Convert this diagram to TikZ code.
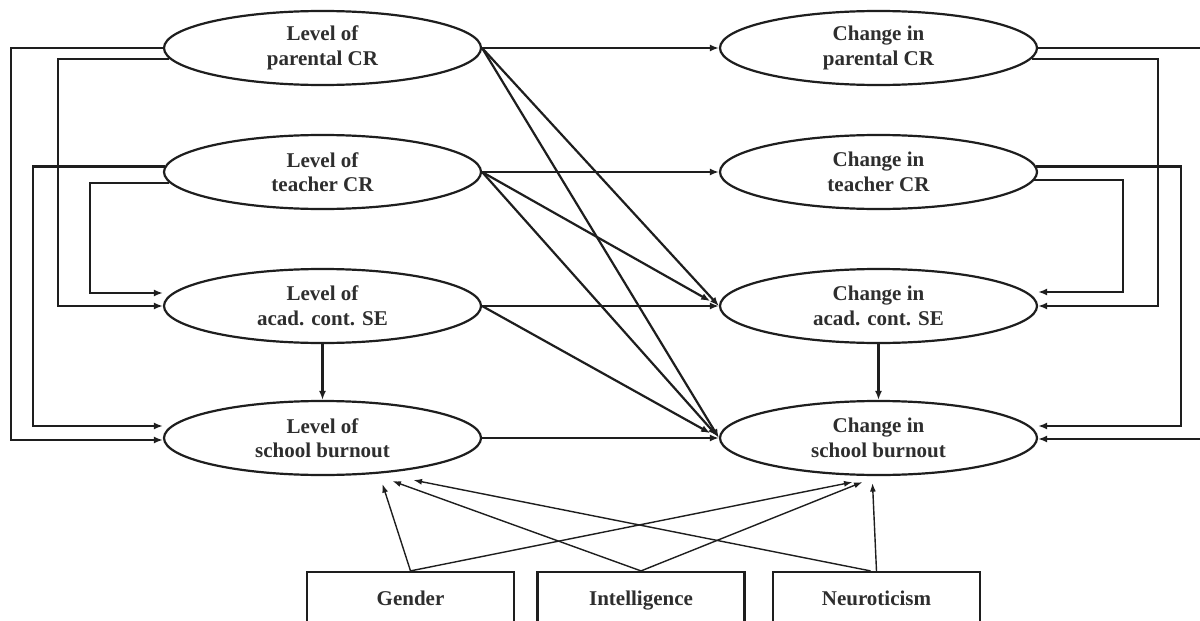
\documentclass[tikz,border=0pt]{standalone}
\usepackage{fontspec}
\setmainfont{Liberation Serif}
\usetikzlibrary{arrows.meta,calc,shapes.geometric}
\definecolor{ink}{HTML}{1E1E1E}
\definecolor{txt}{HTML}{2E2E2E}
\tikzset{
  latent/.style={ellipse, draw=ink, line width=2.2pt, minimum width=317pt, minimum height=74pt, inner sep=0pt, align=center, text=txt, font=\bfseries\fontsize{21}{24.5}\selectfont},
  obs/.style={rectangle, draw=ink, line width=2.2pt, minimum width=207pt, minimum height=56pt, inner sep=0pt, text height=14pt, text depth=4pt, text=txt, font=\bfseries\fontsize{21}{24}\selectfont},
  conn/.style={draw=ink, line width=2.2pt},
  arr/.style={conn, -{Latex[length=9pt,width=7pt]}},
  thinarr/.style={draw=ink, line width=1.4pt, -{Latex[length=8.5pt,width=6pt]}}
}
\begin{document}
\begin{tikzpicture}[x=1pt,y=-1pt]
\useasboundingbox (0,0) rectangle (1200,621);
\clip (0,0) rectangle (1200,621);
\fill[white] (0,0) rectangle (1200,621);
% latent nodes
\node[latent] (L1) at (322.5,48) {Level of\\parental CR};
\node[latent] (L2) at (322.5,172) {Level of\\teacher CR};
\node[latent] (L3) at (322.5,306) {Level of\\acad. cont. SE};
\node[latent] (L4) at (322.5,438) {Level of\\school burnout};
\node[latent] (R1) at (878.5,48) {Change in\\parental CR};
\node[latent] (R2) at (878.5,172) {Change in\\teacher CR};
\node[latent] (R3) at (878.5,306) {Change in\\acad. cont. SE};
\node[latent] (R4) at (878.5,438) {Change in\\school burnout};
% observed covariates
\node[obs] (G) at (410.5,600) {Gender};
\node[obs] (I) at (641,600) {Intelligence};
\node[obs] (N) at (876.5,600) {Neuroticism};
% routing channels
\coordinate (chA) at (11,250);
\coordinate (chB) at (58,200);
\coordinate (chC) at (33,300);
\coordinate (chD) at (90,240);
\coordinate (chE) at (1214,250);
\coordinate (chF) at (1158,200);
\coordinate (chG) at (1181,300);
\coordinate (chH) at (1123,240);
% left routing
\draw[arr] (L1.west) -| (chA) |- ([yshift=-2pt]L4.west);
\draw[arr] (L1.184.58) -| (chB) |- (L3.west);
\draw[arr] (L2.178.55) -| (chC) |- ([yshift=12pt]L4.west);
\draw[arr] (L2.184.16) -| (chD) |- ([yshift=13pt]L3.west);
% right routing
\draw[arr] (R1.east) -| (chE) |- ([yshift=-1pt]R4.east);
\draw[arr] (R1.-4.58) -| (chF) |- (R3.east);
\draw[arr] (R2.2.2) -| (chG) |- ([yshift=12pt]R4.east);
\draw[arr] (R2.-3.75) -| (chH) |- ([yshift=14pt]R3.east);
% horizontal paths
\draw[arr] (L1.east) -- (R1.west);
\draw[arr] (L2.east) -- (R2.west);
\draw[arr] (L3.east) -- (R3.west);
\draw[arr] (L4.east) -- (R4.west);
% cross paths
\draw[arr] (L1.east) -- (R3.west);
\draw[arr] (L1.east) -- (R4.west);
\draw[arr, shorten >=10pt] (L2.east) -- (R3.west);
\draw[arr, shorten >=3pt] (L2.east) -- (R4.west);
\draw[arr, shorten >=10pt] (L3.east) -- (R4.west);
% vertical paths
\draw[arr] (L3.south) -- (L4.north);
\draw[arr] (R3.south) -- (R4.north);
% covariate paths
\draw[thinarr] (G.north) -- ($(L4.south)+(60,8)$);
\draw[thinarr] (G.north) -- ($(R4.south)+(-26,6)$);
\draw[thinarr] (I.north) -- ($(L4.south)+(70,5)$);
\draw[thinarr] (I.north) -- ($(R4.south)+(-16,6)$);
\draw[thinarr] ($(N.north)+(-6,0)$) -- ($(L4.south)+(91,4)$);
\draw[thinarr] (N.north) -- ($(R4.south)+(-6,7)$);
\end{tikzpicture}
\end{document}
